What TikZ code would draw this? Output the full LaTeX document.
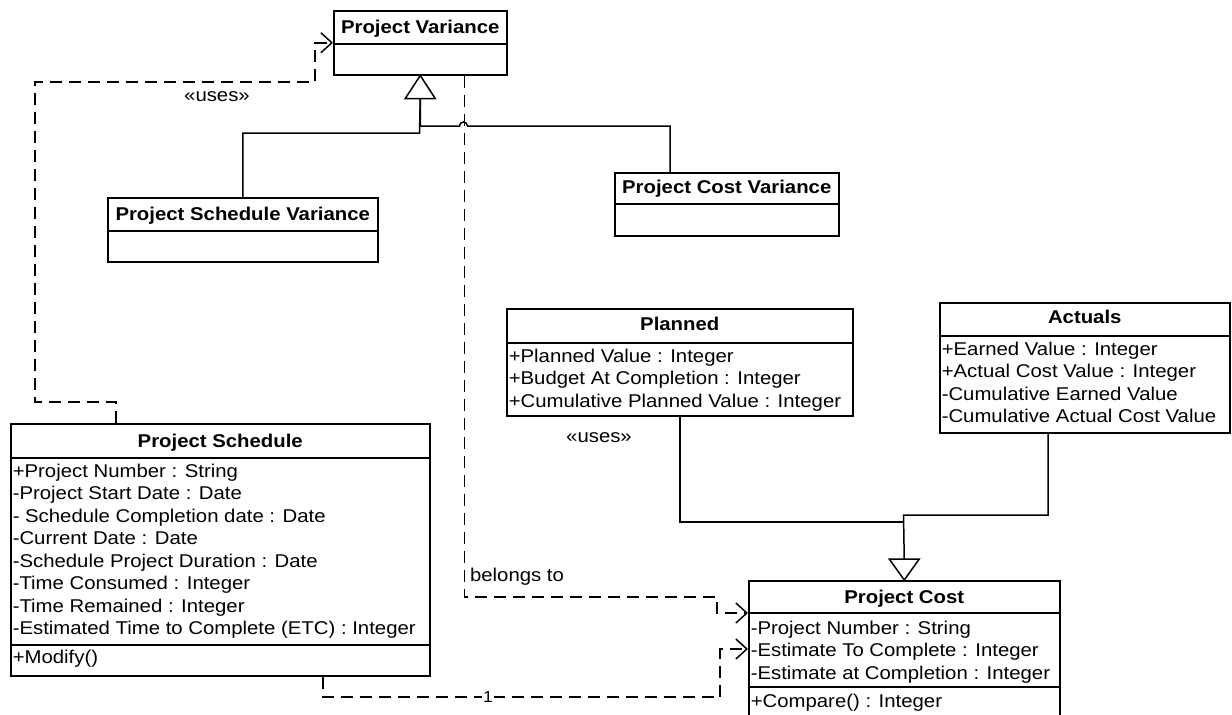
\documentclass[tikz,border=0pt]{standalone}
\usepackage{fontspec}
\setmainfont[FakeStretch=1.1]{Liberation Sans}
\usepackage{tikz}
\usetikzlibrary{calc}
\usetikzlibrary{arrows.meta}

\tikzset{
  cls/.style={draw,line width=1.5pt,anchor=north west,inner sep=0pt},
  ttl/.style={anchor=base,inner sep=0pt,font=\fontsize{18.5}{20}\selectfont\bfseries},
  attr/.style={anchor=base west,inner sep=0pt,font=\fontsize{18.5}{20}\selectfont},
  lbl/.style={inner sep=0pt,font=\fontsize{18.5}{20}\selectfont},
  dep/.style={line width=1.5pt,dash pattern=on 12pt off 7pt,-{Straight Barb[length=11pt,width=20pt]}},
  gen/.style={line width=1.5pt,fill=white},
}

\begin{document}
\begin{tikzpicture}[x=1pt,y=-1pt,line width=1.5pt]
        \useasboundingbox (0,0) rectangle (1232,715);
        \clip (0,0) rectangle (1232,715);
        % variance classes
        \node[cls,minimum width=173,minimum height=64] (pv) at (333,10) {};
        \node[ttl] (pvt) at ($(pv.north)+(0,23)$) {Project Variance};
        \draw ($(pv.north west)+(0,34)$) -- ($(pv.north east)+(0,34)$);
        \node[cls,minimum width=270,minimum height=64] (psv) at (107,197) {};
        \node[ttl] (psvt) at ($(psv.north)+(0,23)$) {Project Schedule Variance};
        \draw ($(psv.north west)+(0,34)$) -- ($(psv.north east)+(0,34)$);
        \node[cls,minimum width=224,minimum height=63] (pcv) at (614,172) {};
        \node[ttl] (pcvt) at ($(pcv.north)+(0,21)$) {Project Cost Variance};
        \draw ($(pcv.north west)+(0,32)$) -- ($(pcv.north east)+(0,32)$);
        % project schedule
        \node[cls,minimum width=419,minimum height=252] (ps) at (10,423) {};
        \node[ttl] (pst) at ($(ps.north)+(0,24)$) {Project Schedule};
        \draw ($(ps.north west)+(0,35)$) -- ($(ps.north east)+(0,35)$);
        \foreach \t [count=\i from 0] in {{+Project Number : String},{-Project Start Date : Date},{- Schedule Completion date : Date},{-Current Date : Date},{-Schedule Project Duration : Date},{-Time Consumed : Integer},{-Time Remained : Integer},{-Estimated Time to Complete (ETC) : Integer}}
            \node[attr] (psa\i) at ($(ps.north west)+(2,{54+22.57*\i})$) {\t};
        \draw ($(ps.north west)+(0,222)$) -- ($(ps.north east)+(0,222)$);
        \node[attr] (psm) at ($(ps.north west)+(2,240)$) {+Modify()};
        % planned and actuals
        \node[cls,minimum width=346,minimum height=107] (plan) at (506,308) {};
        \node[ttl] (plant) at ($(plan.north)+(0,22)$) {Planned};
        \draw ($(plan.north west)+(0,35)$) -- ($(plan.north east)+(0,35)$);
        \foreach \t [count=\i from 0] in {{+Planned Value : Integer},{+Budget At Completion : Integer},{+Cumulative Planned Value : Integer}}
            \node[attr] (plana\i) at ($(plan.north west)+(2,{54+22.5*\i})$) {\t};
        \node[cls,minimum width=290,minimum height=130] (act) at (939,302) {};
        \node[ttl] (actt) at ($(act.north)+(0,21.5)$) {Actuals};
        \draw ($(act.north west)+(0,34)$) -- ($(act.north east)+(0,34)$);
        \foreach \t [count=\i from 0] in {{+Earned Value : Integer},{+Actual Cost Value : Integer},{-Cumulative Earned Value},{-Cumulative Actual Cost Value}}
            \node[attr] (acta\i) at ($(act.north west)+(2,{53+22.5*\i})$) {\t};
        % project cost
        \node[cls,minimum width=311,minimum height=150] (pc) at (748,580) {};
        \node[ttl] (pct) at ($(pc.north)+(0,23)$) {Project Cost};
        \draw ($(pc.north west)+(0,33)$) -- ($(pc.north east)+(0,33)$);
        \foreach \t [count=\i from 0] in {{-Project Number : String},{-Estimate To Complete : Integer},{-Estimate at Completion : Integer}}
            \node[attr] (pca\i) at ($(pc.north west)+(2,{54+22.5*\i})$) {\t};
        \draw ($(pc.north west)+(0,107)$) -- ($(pc.north east)+(0,107)$);
        \node[attr] (pcm) at ($(pc.north west)+(2,127)$) {+Compare() : Integer};
        % generalisation
        \coordinate (pvtri) at ($(pv.south)+(0,23)$);
        \draw (pvtri) |- (459.5,126) arc (180:360:4) -| ($(pcv.north west)+(56,0)$);
        \draw (psv.north) |- (419.5,133) -- (pvtri);
        \draw[gen] (pv.south) -- ++(-15,23) -- ++(30,0) -- cycle;
        \coordinate (pctri) at ($(pc.north)+(0,-21)$);
        \draw (plan.south) |- (903.5,522);
        \draw ([xshift=109pt]act.south west) |- (903.5,515) -- (pctri);
        \draw[gen] (pc.north) -- ++(-15,-21) -- ++(30,0) -- cycle;
        % dependencies
        \draw[dep] ([xshift=106pt]ps.north west) |- (35,402) |- (315,82) |- (pv.west);
        \node[lbl] (uses1) at (217,97) {«uses»};
        \draw[dep] ([xshift=44pt]pv.south) |- (717,597) |- ($(pc.north west)+(0,33)$);
        \node[lbl] (belongs) at (517,577) {belongs to};
        \draw[dep] ([xshift=313pt]ps.south west) |- (720,697) |- ($(pc.north west)+(0,69)$);
        \node[fill=white,inner sep=1pt,font=\fontsize{16}{16}\selectfont] (mult) at (488,697) {1};
        \node[lbl] (uses2) at (599,438) {«uses»};
    \end{tikzpicture}
\end{document}
